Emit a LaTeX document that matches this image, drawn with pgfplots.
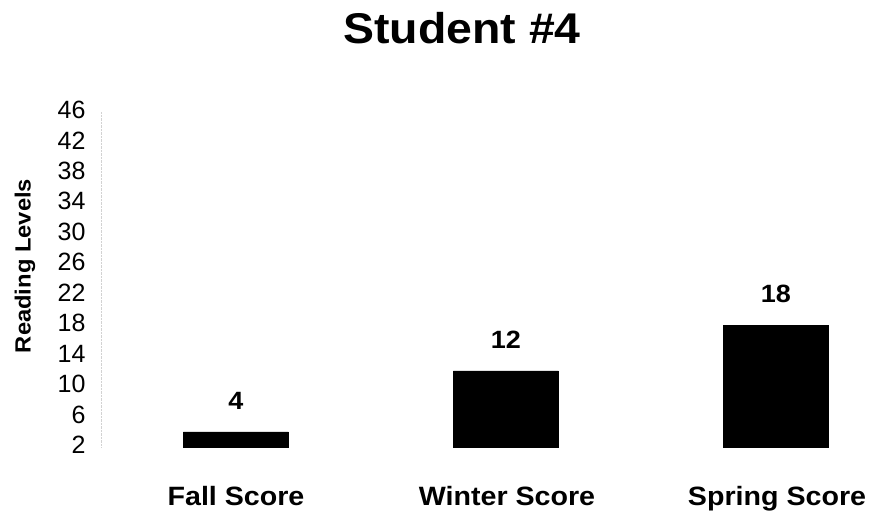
\documentclass[border=0pt]{standalone}
\usepackage{fontspec}
\setmainfont{Liberation Sans}[FakeStretch=1.08]
\newfontfamily\tickfont{Liberation Sans}
\usepackage{pgfplots}
\pgfplotsset{compat=1.18}
\begin{document}
\begin{tikzpicture}
\begin{axis}[
  scale only axis,
  width=777pt, height=335pt,
  xmin=-0.5, xmax=2.378,
  ymin=2, ymax=46,
  axis x line=none,
  axis y line*=left,
  y axis line style={gray!35, densely dotted, -},
  ytick={2,6,...,46},
  xtick=\empty,
  major tick length=0pt,
  /pgf/number format/assume math mode=true,
  yticklabel style={font=\tickfont\fontsize{25}{28}\selectfont, anchor=east, xshift=-12pt, yshift=2pt},
  ybar, bar width=105pt,
  nodes near coords,
  every node near coord/.append style={font=\bfseries\fontsize{25}{28}\selectfont, anchor=south, inner sep=0pt, yshift=22pt},
  clip=true,
]
\addplot[fill=black, draw=black] coordinates {(0,4) (1,12) (2,18)};
\end{axis}
\node[font=\bfseries\fontsize{43}{50}\selectfont, anchor=base] at (361pt,403pt) {Student \#4};
\node[font=\bfseries\fontsize{22}{26}\selectfont, rotate=90, inner sep=0pt] at (-76pt,181pt) {Reading Levels};
\node[font=\bfseries\fontsize{26.5}{30}\selectfont, anchor=base] at (135pt,-58pt) {Fall Score};
\node[font=\bfseries\fontsize{26.5}{30}\selectfont, anchor=base] at (406pt,-58pt) {Winter Score};
\node[font=\bfseries\fontsize{26.5}{30}\selectfont, anchor=base] at (676pt,-58pt) {Spring Score};
\pgfresetboundingbox
\path (-101pt,-70pt) rectangle (777pt,447pt);
\end{tikzpicture}
\end{document}
